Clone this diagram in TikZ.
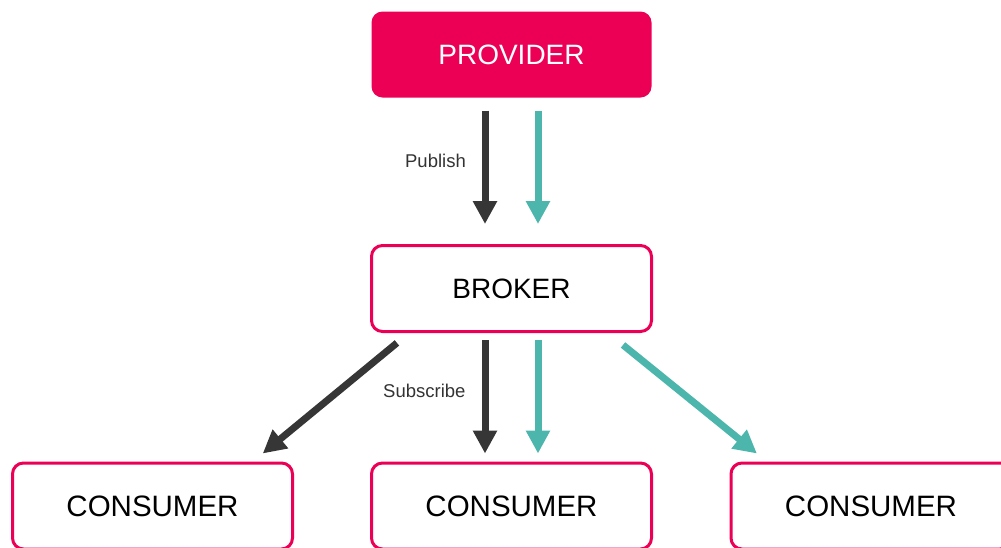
\documentclass[tikz,border=0pt]{standalone}
\usepackage{fontspec}
\setmainfont{Liberation Sans}
\usetikzlibrary{arrows.meta}
\definecolor{brand}{HTML}{EB0055}
\definecolor{teal}{HTML}{4DB6AC}
\definecolor{ink}{HTML}{363636}
\definecolor{caption}{HTML}{333333}
\begin{document}
\begin{tikzpicture}[x=1pt,y=-1pt,
  box/.style={rectangle, rounded corners=11pt, minimum width=280pt,
    minimum height=86pt, inner sep=0pt, font=\fontsize{28}{30}\selectfont},
  solidbox/.style={box, fill=brand, text=white},
  linebox/.style={box, draw=brand, line width=3pt, text=black},
  consbox/.style={linebox, font=\fontsize{29.5}{31}\selectfont},
  flow/.style={line width=7pt, -{Triangle[length=23pt,width=23pt]}},
  darkflow/.style={flow, draw=ink},
  tealflow/.style={flow, draw=teal},
  lbl/.style={text=caption, font=\fontsize{18.5}{20}\selectfont, inner sep=0pt}]
\useasboundingbox (0,0) rectangle (1001,547);
\clip (0,0) rectangle (1001,547);

% nodes
\node[solidbox] (prov) at (511.5,54.5) {PROVIDER};
\node[linebox] (brok) at (511.5,288.5) {BROKER};
\node[consbox] (consA) at (152.5,506) {CONSUMER};
\node[consbox] (consB) at (511.5,506) {CONSUMER};
\node[consbox] (consC) at (871,506) {CONSUMER};

% publish
\draw[darkflow, shorten <=13pt, shorten >=20pt]
  ([xshift=-26.5pt]prov.south) -- ([xshift=-26.5pt]brok.north);
\draw[tealflow, shorten <=13pt, shorten >=20pt]
  ([xshift=26.5pt]prov.south) -- ([xshift=26.5pt]brok.north);
\node[lbl, anchor=base east] (pub) at (466,167) {Publish};

% subscribe
\draw[darkflow, shorten <=7pt, shorten >=8pt]
  ([xshift=-26.5pt]brok.south) -- ([xshift=-26.5pt]consB.north);
\draw[tealflow, shorten <=7pt, shorten >=8pt]
  ([xshift=26.5pt]brok.south) -- ([xshift=26.5pt]consB.north);
\draw[darkflow, shorten <=15.6pt, shorten >=12.6pt]
  ([xshift=-102.5pt]brok.south) -- ([xshift=100.5pt]consA.north);
\draw[tealflow, shorten <=19pt, shorten >=12.7pt]
  ([xshift=96.75pt]brok.south) -- ([xshift=-104.2pt]consC.north);
\node[lbl, anchor=base west] (sub) at (383,397) {Subscribe};
\end{tikzpicture}
\end{document}
